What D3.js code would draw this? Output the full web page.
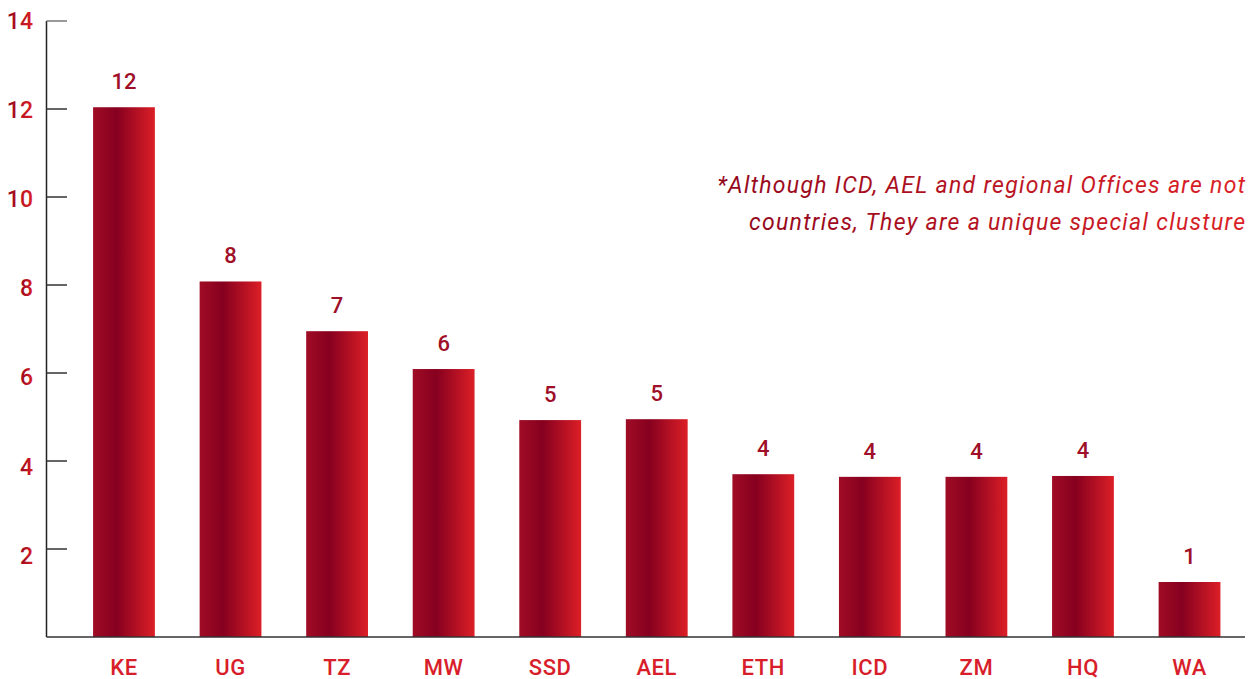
<!DOCTYPE html>
<html>
<head>
<meta charset="utf-8">
<script src="https://cdn.jsdelivr.net/npm/d3@7/dist/d3.min.js"></script>
<style>
  html, body { margin: 0; padding: 0; background: #fff; }
  svg { display: block; font-family: Roboto, "Noto Sans", sans-serif; }
</style>
</head>
<body>
<svg id="chart" width="1253" height="679"></svg>
<script>
// ---- data ----
const categories = ["KE", "UG", "TZ", "MW", "SSD", "AEL", "ETH", "ICD", "ZM", "HQ", "WA"];
const values     = [12.04, 8.08, 6.95, 6.09, 4.93, 4.95, 3.70, 3.64, 3.64, 3.66, 1.25];
const valueLabels = ["12", "8", "7", "6", "5", "5", "4", "4", "4", "4", "1"];
const yTicks = [2, 4, 6, 8, 10, 12, 14];
const noteLines = [
  "*Although ICD, AEL and regional Offices are not",
  "countries, They are a unique special clusture"
];

// ---- layout ----
const svg = d3.select("#chart");
const axisX = 46.5, baseY = 637, topY = 21;

const x = d3.scaleBand().domain(categories).range([70.7, 1242.8]).paddingInner(0.42).paddingOuter(0.21);
const y = d3.scaleLinear().domain([0, 14]).range([baseY, topY]);
// tick labels in the reference sit on a slightly stretched scale
const yLab = d3.scaleLinear().domain([0, 14]).range([645.5, 21]);

const defs = svg.append("defs");
const g = defs.append("linearGradient").attr("id", "barGrad")
  .attr("x1", "0%").attr("x2", "100%").attr("y1", "0%").attr("y2", "0%");
g.append("stop").attr("offset", "0%").attr("stop-color", "#a00c25");
g.append("stop").attr("offset", "38%").attr("stop-color", "#86001f");
g.append("stop").attr("offset", "100%").attr("stop-color", "#dc1f27");

const tg = defs.append("linearGradient").attr("id", "textGrad")
  .attr("x1", "0%").attr("x2", "100%").attr("y1", "0%").attr("y2", "0%");
tg.append("stop").attr("offset", "0%").attr("stop-color", "#92061e");
tg.append("stop").attr("offset", "100%").attr("stop-color", "#dc1f27");

// bars
svg.append("g").selectAll("rect").data(categories).join("rect")
  .attr("x", d => x(d))
  .attr("width", x.bandwidth())
  .attr("y", (d, i) => y(values[i]))
  .attr("height", (d, i) => baseY - y(values[i]))
  .attr("fill", "url(#barGrad)");

// axis lines
svg.append("line").attr("x1", axisX).attr("x2", axisX).attr("y1", topY).attr("y2", baseY)
  .attr("stroke", "#222").attr("stroke-width", 1.5);
svg.append("line").attr("x1", axisX).attr("x2", 1245).attr("y1", baseY).attr("y2", baseY)
  .attr("stroke", "#333").attr("stroke-width", 1.5);

// ticks
svg.append("g").selectAll("line").data(yTicks).join("line")
  .attr("x1", axisX).attr("x2", 67)
  .attr("y1", d => y(d)).attr("y2", d => y(d))
  .attr("stroke", d => d === 14 ? "#777" : "#333").attr("stroke-width", 1.5);

svg.append("g").selectAll("text").data(yTicks).join("text")
  .attr("x", 33).attr("y", d => yLab(d))
  .attr("text-anchor", "end").attr("dominant-baseline", "central")
  .attr("font-size", 23).attr("font-weight", 500).attr("fill", "url(#textGrad)")
  .text(d => d);

// category labels
svg.append("g").selectAll("text").data(categories).join("text")
  .attr("x", d => x(d) + x.bandwidth() / 2).attr("y", 675)
  .attr("text-anchor", "middle").attr("font-size", 22).attr("font-weight", 500)
  .attr("letter-spacing", 0.6).attr("fill", "#d81e2a")
  .text(d => d);

// value labels
svg.append("g").selectAll("text").data(categories).join("text")
  .attr("x", d => x(d) + x.bandwidth() / 2)
  .attr("y", (d, i) => y(values[i]) - 18)
  .attr("text-anchor", "middle").attr("font-size", 22).attr("font-weight", 500)
  .attr("fill", "#a00f28")
  .text((d, i) => valueLabels[i]);

// note
svg.append("g").selectAll("text").data(noteLines).join("text")
  .attr("x", 1246.3).attr("y", (d, i) => 193 + i * 37)
  .attr("text-anchor", "end").attr("font-size", 23).attr("font-style", "italic")
  .attr("letter-spacing", 1.3)
  .attr("fill", "url(#textGrad)")
  .text(d => d);
</script>
</body>
</html>
